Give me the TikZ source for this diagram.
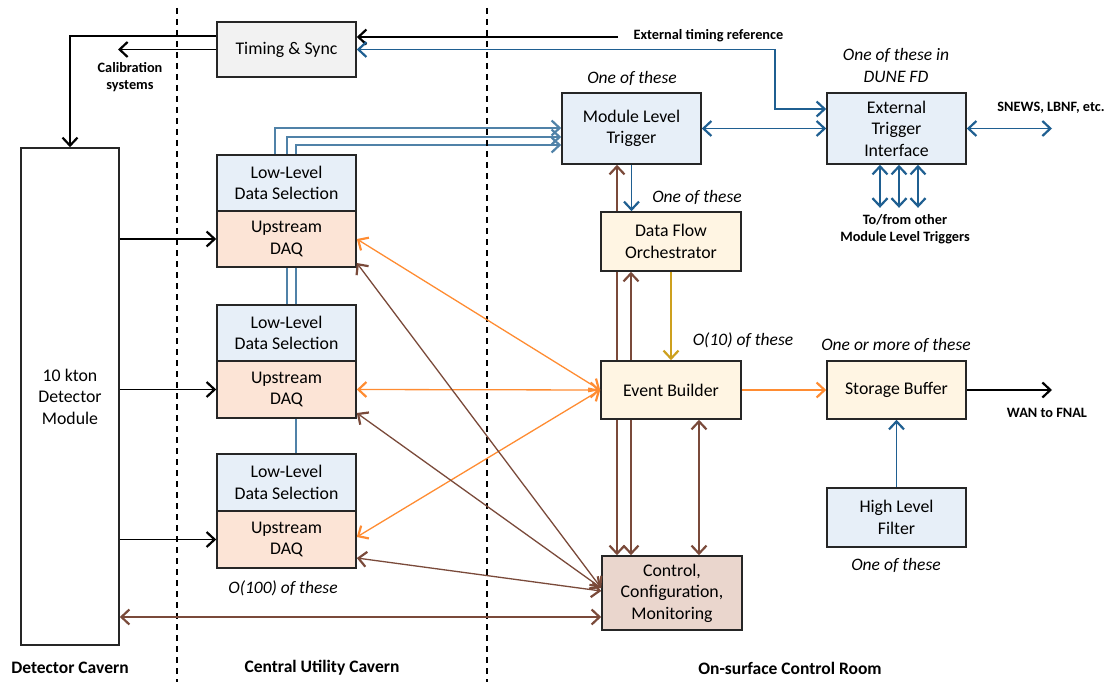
\documentclass[tikz,border=0pt]{standalone}
\usepackage{fontspec}
\setmainfont{Carlito}
\usetikzlibrary{arrows.meta,calc}
\pgfdeclarelayer{bg}
\pgfsetlayers{bg,main}
\definecolor{llfill}{RGB}{231,239,248}
\definecolor{udfill}{RGB}{252,228,214}
\definecolor{crfill}{RGB}{255,245,227}
\definecolor{ccfill}{RGB}{234,214,205}
\definecolor{tsfill}{RGB}{242,242,242}
\definecolor{barr}{RGB}{31,95,145}
\definecolor{bline}{RGB}{80,130,168}
\definecolor{brn}{RGB}{122,74,58}
\definecolor{orng}{RGB}{255,140,50}
\definecolor{gld}{RGB}{205,160,30}
\newcommand\bxfont{\fontsize{17.8}{21.5}\selectfont}
\newcommand\lbfont{\fontsize{14.3}{17}\selectfont\bfseries}
\newcommand\itfont{\fontsize{17.5}{22}\selectfont\itshape}
\newcommand\scfont{\fontsize{17.5}{20}\selectfont\bfseries}
\begin{document}
\begin{tikzpicture}[x=1pt,y=-1pt,
  >={Straight Barb[length=8pt,width=15pt,line width=2.2pt]},
  box/.style={draw=black!85,line width=1.6pt,inner sep=0pt,align=center,font=\bxfont},
  conn/.style={line width=1.3pt},
  lbl/.style={font=\lbfont,align=center,inner sep=0pt},
  itl/.style={font=\itfont,align=center,inner sep=0pt},
  sec/.style={font=\scfont,inner sep=0pt},
  sep/.style={line width=1.4pt,dash pattern=on 6pt off 5pt}]
\useasboundingbox (0,0) rectangle (1112,682);

% boxes
\node[box,fill=white,minimum width=98pt,minimum height=497pt] (det) at (70,396.5) {10 kton\\Detector\\Module};
\node[box,fill=tsfill,minimum width=139pt,minimum height=55pt] (ts) at (286.5,49.5) {Timing \& Sync};
\node[box,fill=llfill,minimum width=139pt,minimum height=71pt] (mlt) at (631.5,128.5) {Module Level\\Trigger};
\node[box,fill=llfill,minimum width=139pt,minimum height=71pt] (eti) at (896.5,128.5) {External\\Trigger\\Interface};
\node[box,fill=llfill,minimum width=139pt,minimum height=56pt] (ll1) at (286.5,183) {Low-Level\\Data Selection};
\node[box,fill=udfill,minimum width=139pt,minimum height=56pt] (ud1) at (286.5,239) {Upstream\\DAQ};
\node[box,fill=llfill,minimum width=139pt,minimum height=56pt] (ll2) at (286.5,333) {Low-Level\\Data Selection};
\node[box,fill=udfill,minimum width=139pt,minimum height=57pt] (ud2) at (286.5,389.5) {Upstream\\DAQ};
\node[box,fill=llfill,minimum width=139pt,minimum height=57pt] (ll3) at (286.5,482.5) {Low-Level\\Data Selection};
\node[box,fill=udfill,minimum width=139pt,minimum height=57pt] (ud3) at (286.5,539.5) {Upstream\\DAQ};
\node[box,fill=crfill,minimum width=140pt,minimum height=59pt] (dfo) at (671,241.5) {Data Flow\\Orchestrator};
\node[box,fill=crfill,minimum width=140pt,minimum height=58pt] (eb) at (671,390) {Event Builder};
\node[box,fill=crfill,minimum width=139pt,minimum height=58pt] (sb) at (896.5,390) {Storage Buffer};
\node[box,fill=llfill,minimum width=139pt,minimum height=59pt] (hlf) at (896.5,517.5) {High Level\\Filter};
\node[box,fill=ccfill,minimum width=140pt,minimum height=74pt] (ccm) at (672,593) {Control,\\Configuration,\\Monitoring};

% labels
\node[lbl] (calib) at (130,77) {Calibration\\systems};
\node[lbl] (extl) at (708.5,36) {External timing reference};
\node[lbl] (snl) at (1051,108) {SNEWS, LBNF, etc.};
\node[lbl] (tfl) at (905,229) {To/from other\\Module Level Triggers};
\node[lbl] (wanl) at (1047,413) {WAN to FNAL};
\node[itl] (i1) at (632,78) {One of these};
\node[itl] (i2) at (896,65) {One of these in\\DUNE FD};
\node[itl] (i3) at (697,197) {One of these};
\node[itl] (i4) at (743,340) {O(10) of these};
\node[itl] (i5) at (896,345) {One or more of these};
\node[itl] (i6) at (896,565) {One of these};
\node[itl] (i7) at (283,588) {O(100) of these};
\node[sec] (s1) at (70,668) {Detector Cavern};
\node[sec] (s2) at (322,668) {Central Utility Cavern};
\node[sec] (s3) at (790,668) {On-surface Control Room};

% separators
\draw[sep] (177,8) -- (177,682);
\draw[sep] (487,8) -- (487,682);

% free ends
\coordinate (calibend) at (118,49.5);
\coordinate (extend) at (618,37);
\coordinate (tb1) at (775,49.5);
\coordinate (tb2) at (775,109);
\coordinate (snend) at (1052,128.5);
\coordinate (wanend) at (1052,390);

% lines behind boxes
\begin{pgfonlayer}{bg}
\draw[conn,bline,->] ([xshift=-11.5pt]ll1.north) |- ([yshift=0.5pt]mlt.west);
\draw[conn,bline,->] ([xshift=0.5pt]ll2.north) |- ([yshift=-8.5pt]mlt.west);
\draw[conn,bline,->] ([xshift=9.5pt]ll3.north) |- ([yshift=-16.5pt]mlt.west);
\draw[conn,brn,<->] ([xshift=-55pt]ccm.north) -- ([xshift=-55pt]ccm.north |- mlt.south);
\draw[conn,brn,<->] ([xshift=-41pt]ccm.north) -- ([xshift=-41pt]ccm.north |- dfo.south);
\end{pgfonlayer}

% timing
\draw[conn,->] ([yshift=13.5pt]ts.west) -| (det.north);
\draw[conn,->] (ts.west) -- (calibend);
\draw[conn,->] (extend) -- (ts.east |- extend);
\draw[conn,barr,<->] (ts.east) -- (tb1) -- (tb2) -- (eti.west |- tb2);

% triggers
\draw[conn,barr,<->] (mlt.east) -- (eti.west);
\draw[conn,barr,<->] (eti.east) -- (snend);
\draw[conn,barr,<->] ([xshift=-16.5pt]eti.south) -- ++(0,43);
\draw[conn,barr,<->] ([xshift=2.5pt]eti.south) -- ++(0,43);
\draw[conn,barr,<->] ([xshift=21.5pt]eti.south) -- ++(0,43);
\draw[conn,barr,->] (mlt.south) -- (mlt.south |- dfo.north);
\draw[conn,gld,->] (dfo.south) -- (eb.north);
\draw[conn,brn,<->] ([xshift=27pt]ccm.north) -- ([xshift=27pt]ccm.north |- eb.south);

% data
\draw[conn,->] (det.east |- ud1.west) -- (ud1.west);
\draw[conn,->] (det.east |- ud2.west) -- (ud2.west);
\draw[conn,->] (det.east |- ud3.west) -- (ud3.west);
\draw[conn,orng,<->] (ud1.east) -- (eb.west);
\draw[conn,orng,<->] (ud2.east) -- (eb.west);
\draw[conn,orng,<->] ([yshift=2.5pt]ud3.east) -- (eb.west);
\draw[conn,orng,->] (eb.east) -- (sb.west);
\draw[conn,->] (sb.east) -- (wanend);
\draw[conn,barr,->] (hlf.north) -- (sb.south);

% control
\draw[conn,brn,<->] ([yshift=-24pt]ud1.east) -- ([yshift=5pt]ccm.west);
\draw[conn,brn,<->] ([yshift=-23.5pt]ud2.east) -- ([yshift=5pt]ccm.west);
\draw[conn,brn,<->] ([yshift=-18.5pt]ud3.east) -- ([yshift=2pt]ccm.west);
\draw[conn,brn,<->] (det.east |- 0,617) -- ([yshift=-24pt]ccm.west);
\end{tikzpicture}
\end{document}
